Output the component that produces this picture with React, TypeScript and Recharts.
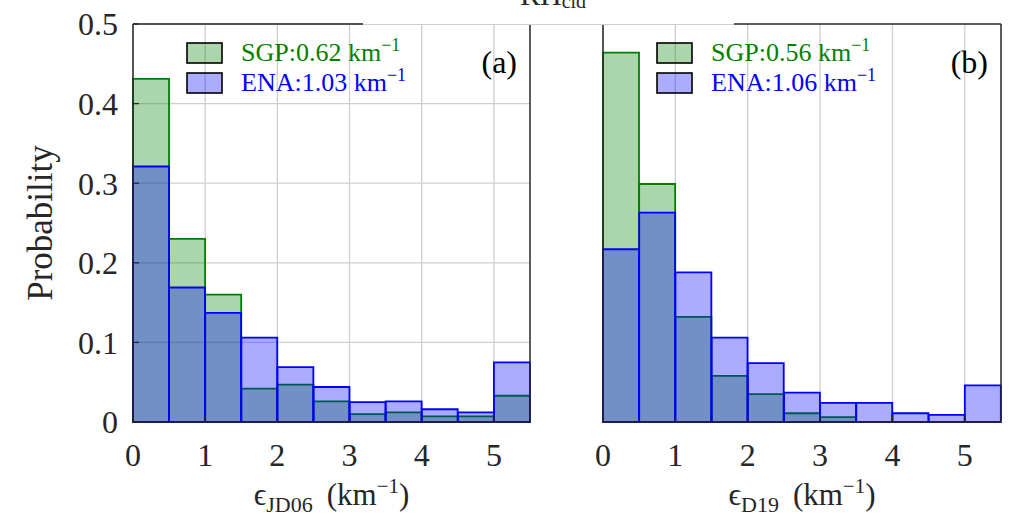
import React from 'react';
import { BarChart, Bar, XAxis, YAxis, CartesianGrid, Legend } from 'recharts';

if (typeof document !== 'undefined') {
  document.body.style.margin = '0';
}

const FONT = '"Liberation Serif", "DejaVu Serif", serif';
const AXIS = '#262626';

const binStarts = [0, 0.5, 1, 1.5, 2, 2.5, 3, 3.5, 4, 4.5, 5];
const xTicks = [0, 1, 2, 3, 4, 5];
const yTicks = [0, 0.1, 0.2, 0.3, 0.4, 0.5];

const sgpA = [0.431, 0.23, 0.16, 0.042, 0.047, 0.026, 0.01, 0.012, 0.007, 0.007, 0.033];
const enaA = [0.321, 0.169, 0.137, 0.106, 0.069, 0.044, 0.025, 0.026, 0.016, 0.012, 0.075];
const sgpB = [0.464, 0.299, 0.132, 0.058, 0.035, 0.011, 0.006, 0, 0, 0, 0];
const enaB = [0.217, 0.263, 0.188, 0.106, 0.074, 0.037, 0.024, 0.024, 0.011, 0.009, 0.046];

const legendA = ['SGP:0.62', 'ENA:1.03'];
const legendB = ['SGP:0.56', 'ENA:1.06'];
const seriesKeys = ['sgp', 'ena'];
const seriesColors = ['#008000', '#0000ff'];

type PanelProps = {
  left: number;
  width: number;
  yAxisWidth: number;
  marginRight: number;
  sgp: number[];
  ena: number[];
  legend: string[];
  showY: boolean;
  sub: string;
  legendLeft: number;
};

const makeXLabel = (sub: string) => (props: any) => {
  const vb = props.viewBox || { x: 0, y: 0, width: 0, height: 0 };
  const cx = vb.x + vb.width / 2;
  const y = vb.y + 83;
  return (
    <text x={cx} y={y} textAnchor="middle" fill={AXIS} fontFamily={FONT} fontSize={31}>
      {'\u03f5'}
      <tspan dy={7} fontSize={22}>{sub}</tspan>
      <tspan dy={-7}>{'\u00a0\u2009(km'}</tspan>
      <tspan dy={-12} fontSize={21}>{'\u22121'}</tspan>
      <tspan dy={12}>)</tspan>
    </text>
  );
};

const yLabel = (props: any) => {
  const vb = props.viewBox || { x: 0, y: 0, width: 0, height: 0 };
  const cx = vb.x + 40;
  const cy = vb.y + vb.height / 2;
  return (
    <text
      x={cx}
      y={cy}
      transform={`rotate(-90 ${cx} ${cy})`}
      textAnchor="middle"
      dominantBaseline="central"
      fill={AXIS}
      fontFamily={FONT}
      fontSize={35}
    >
      Probability
    </text>
  );
};

const makeLegend = () => (props: any) => {
  const payload = [...(props.payload || [])].sort(
    (a: any, b: any) => seriesKeys.indexOf(a.dataKey) - seriesKeys.indexOf(b.dataKey)
  );
  return (
    <svg width={270} height={70} style={{ overflow: 'visible' }}>
      {payload.map((entry: any, i: number) => (
        <g key={i}>
          <rect
            x={2}
            y={5 + i * 30}
            width={35}
            height={20}
            fill={entry.color}
            fillOpacity={0.33}
            stroke="#000"
            strokeWidth={1.6}
          />
          <text
            x={56}
            y={23 + i * 29.5}
            fill={entry.color}
            fontFamily={FONT}
            fontSize={26}
          >
            {entry.value}
            {'\u00a0km'}
            <tspan dy={-10} fontSize={18}>{'\u22121'}</tspan>
          </text>
        </g>
      ))}
    </svg>
  );
};

function Panel(p: PanelProps) {
  const data = binStarts.map((b, i) => ({
    bin: String(b),
    x: b + 0.25,
    sgp: p.sgp[i],
    ena: p.ena[i],
  }));
  const tickStyle = { fill: AXIS, fontSize: 32, fontFamily: FONT };
  return (
    <div style={{ position: 'absolute', left: p.left, top: 0 }}>
      <BarChart
        width={p.width}
        height={517}
        data={data}
        margin={{ top: 23, right: p.marginRight, bottom: 0, left: 0 }}
        barCategoryGap={0}
        barGap={0}
      >
        <CartesianGrid
          xAxisId="num"
          yAxisId="left"
          stroke="#cfcfcf"
          strokeWidth={1.3}
          horizontalValues={yTicks}
          verticalValues={xTicks}
        />
        <XAxis
          xAxisId="num"
          dataKey="x"
          type="number"
          domain={[0, 5.5]}
          ticks={xTicks}
          allowDataOverflow
          interval={0}
          height={95}
          orientation="bottom"
          axisLine={{ stroke: AXIS, strokeWidth: 1.5 }}
          tickLine={{ stroke: AXIS, strokeWidth: 1.3 }}
          tickSize={-6}
          tickMargin={27}
          tick={tickStyle}
          label={{ content: makeXLabel(p.sub) }}
        />
        <XAxis xAxisId="ca" dataKey="bin" type="category" hide height={0} />
        <XAxis xAxisId="cb" dataKey="bin" type="category" hide height={0} />
        <XAxis
          xAxisId="top"
          dataKey="x"
          type="number"
          domain={[0, 5.5]}
          ticks={xTicks}
          allowDataOverflow
          interval={0}
          height={1}
          orientation="top"
          axisLine={{ stroke: AXIS, strokeWidth: 1.5 }}
          tickLine={{ stroke: AXIS, strokeWidth: 1.3 }}
          tickSize={-6}
          tick={false}
        />
        <YAxis
          yAxisId="left"
          domain={[0, 0.5]}
          ticks={yTicks}
          interval={0}
          width={p.yAxisWidth}
          axisLine={{ stroke: AXIS, strokeWidth: 1.5 }}
          tickLine={{ stroke: AXIS, strokeWidth: 1.3 }}
          tickSize={-6}
          tickMargin={21}
          tick={p.showY ? tickStyle : false}
          label={p.showY ? { content: yLabel } : undefined}
        />
        <YAxis
          yAxisId="right"
          orientation="right"
          domain={[0, 0.5]}
          ticks={yTicks}
          interval={0}
          width={1}
          axisLine={{ stroke: AXIS, strokeWidth: 1.5 }}
          tickLine={{ stroke: AXIS, strokeWidth: 1.3 }}
          tickSize={-6}
          tick={false}
        />
        <Legend
          layout="vertical"
          align="center"
          verticalAlign="middle"
          wrapperStyle={{ left: p.legendLeft, top: 38, width: 270, height: 70 }}
          content={makeLegend()}
        />
        <Bar
          xAxisId="ca"
          yAxisId="left"
          dataKey="sgp"
          name={p.legend[0]}
          fill={seriesColors[0]}
          fillOpacity={0.33}
          stroke={seriesColors[0]}
          strokeWidth={1.8}
          isAnimationActive={false}
        />
        <Bar
          xAxisId="cb"
          yAxisId="left"
          dataKey="ena"
          name={p.legend[1]}
          fill={seriesColors[1]}
          fillOpacity={0.33}
          stroke={seriesColors[1]}
          strokeWidth={1.8}
          isAnimationActive={false}
        />
      </BarChart>
    </div>
  );
}

export default function App() {
  return (
    <div style={{ position: 'relative', width: 1013, height: 517, background: '#fff', overflow: 'hidden' }}>
      <Panel
        left={0}
        width={560}
        yAxisWidth={133}
        marginRight={29}
        sgp={sgpA}
        ena={enaA}
        legend={legendA}
        showY
        sub="JD06"
        legendLeft={185}
      />
      <Panel
        left={560}
        width={453}
        yAxisWidth={43}
        marginRight={11}
        sgp={sgpB}
        ena={enaB}
        legend={legendB}
        showY={false}
        sub="D19"
        legendLeft={95}
      />
      <div style={{ position: 'absolute', left: 363, top: 20, width: 371, height: 5, background: '#fff' }}>
        <div style={{ position: 'absolute', left: 0, top: 3.5, width: '100%', height: 1.3, background: '#cfcfcf' }} />
      </div>
      <svg style={{ position: 'absolute', left: 0, top: 0 }} width={1013} height={517} pointerEvents="none">
        <text x={520} y={5} fill={AXIS} fontFamily={FONT} fontSize={30}>
          RH
          <tspan dy={3} fontSize={20}>cld</tspan>
        </text>
        <text x={517} y={73} textAnchor="end" fill="#000" fontFamily={FONT} fontSize={32}>(a)</text>
        <text x={988} y={73} textAnchor="end" fill="#000" fontFamily={FONT} fontSize={32}>(b)</text>
      </svg>
    </div>
  );
}
